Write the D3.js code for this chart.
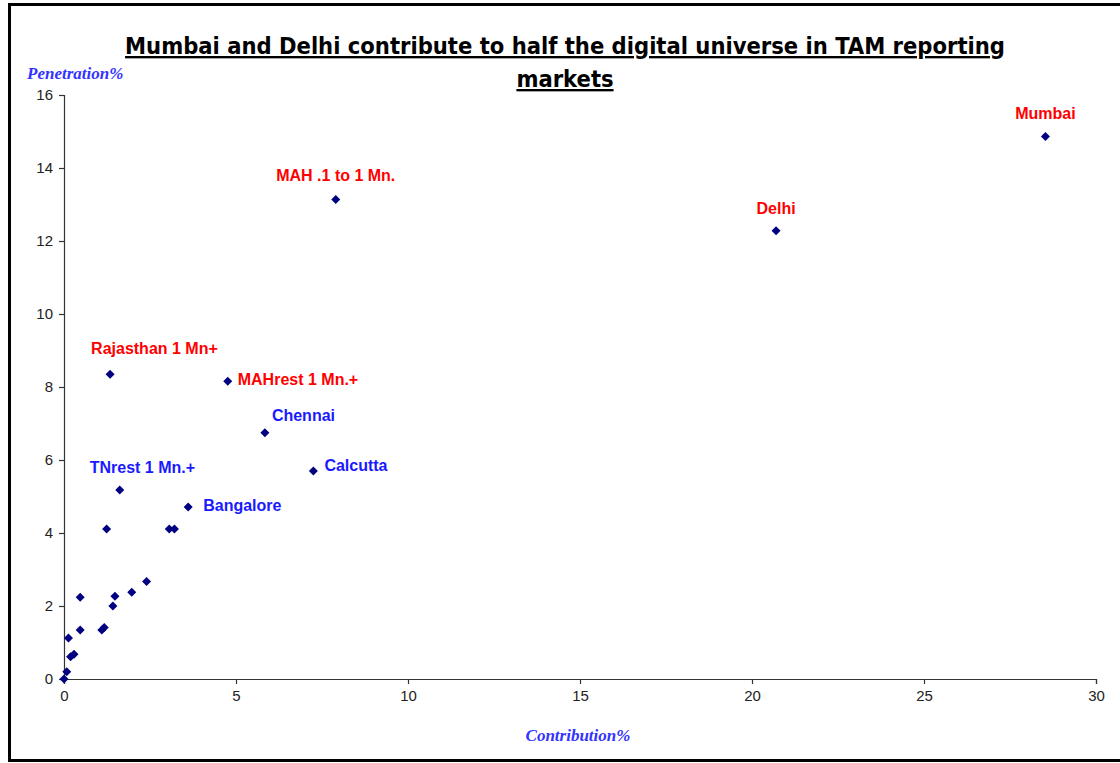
<!DOCTYPE html>
<html><head><meta charset="utf-8">
<script src="https://cdn.jsdelivr.net/npm/d3@7"></script>
<style>html,body{margin:0;padding:0;background:#fff;}</style>
</head><body>
<svg id="c" width="1120" height="763"></svg>
<script>
const titleLines = ["Mumbai and Delhi contribute to half the digital universe in TAM reporting", "markets"];
const xTicks = [0, 5, 10, 15, 20, 25, 30];
const yTicks = [0, 2, 4, 6, 8, 10, 12, 14, 16];
// contribution %, penetration %
const contribution = [28.53, 20.70, 7.90, 1.34, 4.76, 5.84, 7.25, 1.62, 3.61, 1.24, 3.06, 3.21, 2.40, 1.97, 1.48, 1.42, 0.47, 0.47, 1.10, 1.17, 0.13, 0.19, 0.29, 0.08, 0.00];
const penetration  = [14.86, 12.28, 13.14, 8.35, 8.16, 6.75, 5.70, 5.18, 4.71, 4.11, 4.11, 4.11, 2.67, 2.38, 2.27, 2.00, 2.24, 1.34, 1.34, 1.41, 1.12, 0.61, 0.68, 0.20, 0.00];
const labelNames = ["Mumbai", "Delhi", "MAH .1 to 1 Mn.", "Rajasthan 1 Mn+", "MAHrest 1 Mn.+", "Chennai", "Calcutta", "TNrest 1 Mn.+", "Bangalore"];
const labelGroup = ["red", "red", "red", "red", "red", "blue", "blue", "blue", "blue"];

// layout: label offsets from the point (pixels), anchor
const labelLayout = [
  {dx: 0, dy: -18, a: "middle"},
  {dx: 0, dy: -17, a: "middle"},
  {dx: 0, dy: -18, a: "middle"},
  {dx: -19, dy: -20, a: "start"},
  {dx: 10, dy: 4, a: "start"},
  {dx: 7, dy: -12, a: "start"},
  {dx: 11, dy: 0, a: "start"},
  {dx: -30, dy: -17, a: "start"},
  {dx: 15, dy: 4, a: "start"}
];

const svg = d3.select("#c");
const x = d3.scaleLinear().domain([0, 30]).range([64, 1096]);
const y = d3.scaleLinear().domain([0, 16]).range([679, 95]);

// frame
svg.append("rect").attr("x", 9.5).attr("y", 4.5).attr("width", 1130).attr("height", 756)
  .attr("fill", "none").attr("stroke", "#000").attr("stroke-width", 3);

// title
const tt = svg.append("text").attr("text-anchor", "middle")
  .attr("font-family", "'DejaVu Sans Condensed', 'DejaVu Sans', sans-serif").attr("font-weight", "bold")
  .attr("font-size", 23.5).attr("fill", "#000").attr("text-decoration", "underline");
titleLines.forEach((t, i) => {
  tt.append("tspan").attr("x", 565).attr("y", 54 + i * 33).text(t);
});

// axes
const xAxis = d3.axisBottom(x).tickValues(xTicks).tickSize(5).tickPadding(6).tickFormat(d3.format("d"));
const yAxis = d3.axisLeft(y).tickValues(yTicks).tickSize(5).tickPadding(6).tickFormat(d3.format("d"));
const gx = svg.append("g").attr("transform", "translate(0,679)").call(xAxis);
const gy = svg.append("g").attr("transform", "translate(64,0)").call(yAxis);
[gx, gy].forEach(g => {
  g.selectAll("path, line").attr("stroke", "#333").attr("stroke-width", 1.2);
  g.selectAll("text").attr("font-family", "'Liberation Sans', Arial, sans-serif").attr("font-size", 15).attr("fill", "#222");
});

// axis titles
svg.append("text").attr("x", 27).attr("y", 79).attr("font-family", "'Liberation Serif', 'Times New Roman', serif")
  .attr("font-style", "italic").attr("font-weight", "bold").attr("font-size", 17).attr("fill", "#3333ff").text("Penetration%");
svg.append("text").attr("x", 578).attr("y", 741).attr("text-anchor", "middle").attr("font-family", "'Liberation Serif', 'Times New Roman', serif")
  .attr("font-style", "italic").attr("font-weight", "bold").attr("font-size", 17).attr("fill", "#3333ff").text("Contribution%");

// points (square diamond marker)
const pts = contribution.map((c, i) => ({c, p: penetration[i]}));
const r = 4.5;
svg.append("g").selectAll("path").data(pts).join("path")
  .attr("d", `M0,${-r}L${r},0L0,${r}L${-r},0Z`)
  .attr("transform", d => `translate(${x(d.c)},${y(d.p)})`)
  .attr("fill", "#000080");

// labels
const colors = {red: "#ff0000", blue: "#1a1aff"};
labelNames.forEach((name, i) => {
  const L = labelLayout[i];
  svg.append("text").attr("x", x(contribution[i]) + L.dx).attr("y", y(penetration[i]) + L.dy).attr("text-anchor", L.a)
    .attr("font-family", "'Liberation Sans', Arial, sans-serif").attr("font-weight", "bold").attr("font-size", 16)
    .attr("fill", colors[labelGroup[i]]).text(name);
});
</script>
</body></html>
